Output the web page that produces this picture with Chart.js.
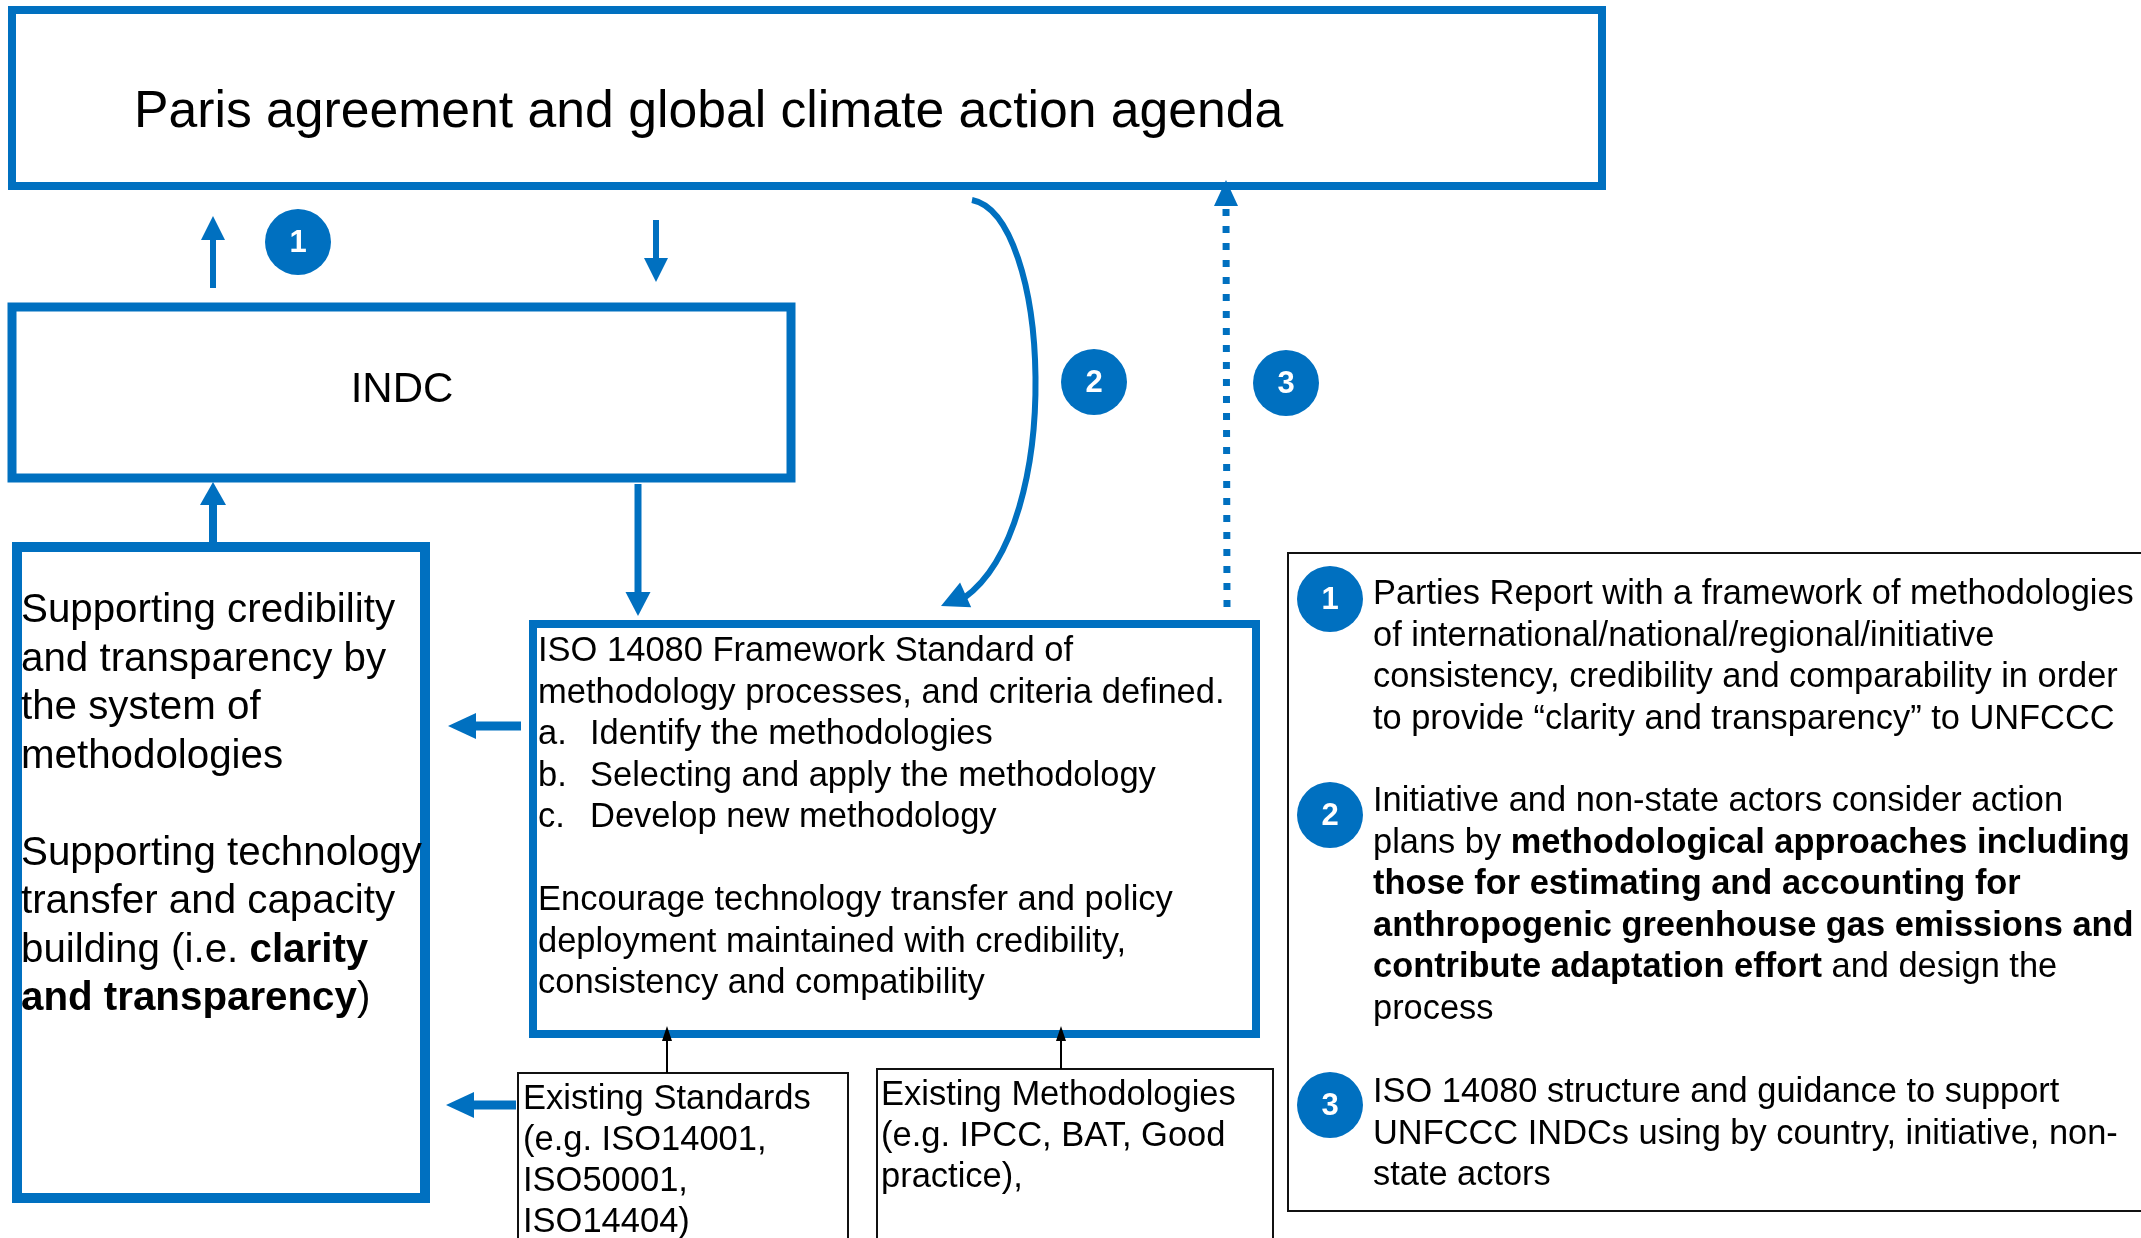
<!DOCTYPE html>
<html>
<head>
<meta charset="utf-8">
<script src="https://cdn.jsdelivr.net/npm/chart.js"></script>
<style>
  html, body { margin: 0; padding: 0; background: #fff; }
  #wrap { width: 2141px; height: 1238px; position: relative; }
</style>
</head>
<body>
<div id="wrap"><canvas id="diagram"></canvas></div>
<script>
// --- Diagram content (texts) ---
const titleText = ['Paris agreement and global climate action agenda'];
const indcText = ['INDC'];
const supportText = [
    'Supporting credibility',
    'and transparency by',
    'the system of',
    'methodologies',
    '',
    'Supporting technology',
    'transfer and capacity',
    'building (i.e. **clarity**',
    '**and transparency**)'
];
const isoText = [
    'ISO 14080 Framework Standard of',
    'methodology processes, and criteria defined.',
    'a.\tIdentify the methodologies',
    'b.\tSelecting and apply the methodology',
    'c.\tDevelop new methodology',
    '',
    'Encourage technology transfer and policy',
    'deployment maintained with credibility,',
    'consistency and compatibility'
];
const standardsText = ['Existing Standards', '(e.g. ISO14001,', 'ISO50001,', 'ISO14404)'];
const methodsText = ['Existing Methodologies', '(e.g. IPCC, BAT, Good', 'practice),'];
const badgeLabels = ['1', '2', '3', '1', '2', '3'];
const noteText = [
    [
        'Parties Report with a framework of methodologies',
        'of international/national/regional/initiative',
        'consistency, credibility and comparability in order',
        'to provide \u201Cclarity and transparency\u201D to UNFCCC'
    ],
    [
        'Initiative and non-state actors consider action',
        'plans by **methodological approaches including**',
        '**those for estimating and accounting for**',
        '**anthropogenic greenhouse gas emissions and**',
        '**contribute adaptation effort** and design the',
        'process'
    ],
    [
        'ISO 14080 structure and guidance to support',
        'UNFCCC INDCs using by country, initiative, non-',
        'state actors'
    ]
];

// --- Layout (in page units, converted through the chart scales) ---
const BLUE = '#0070c0';
const FONT = '"Liberation Sans", Arial, sans-serif';
const badgeSpots = [[298, 242], [1094, 382], [1286, 383], [1330, 599], [1330, 815], [1330, 1105]];

const blueBoxes = [
    { x0: 12, y0: 10, x1: 1602, y1: 186, lw: 8 },   // Paris
    { x0: 12, y0: 307, x1: 791, y1: 478, lw: 9 },   // INDC
    { x0: 17, y0: 547, x1: 425, y1: 1198, lw: 10 }, // supporting
    { x0: 533, y0: 624, x1: 1256, y1: 1034, lw: 8 } // ISO
];
const blackBoxes = [
    { x0: 518, y0: 1073, x1: 848, y1: 1245 },
    { x0: 877, y0: 1069, x1: 1273, y1: 1245 },
    { x0: 1288, y0: 553, x1: 2150, y1: 1211 }
];
// straight arrows: from (x0,y0) to tip (x1,y1)
const arrows = [
    { x0: 213, y0: 288, x1: 213, y1: 216, lw: 6, hl: 24, hw: 24, c: BLUE },
    { x0: 656, y0: 220, x1: 656, y1: 282, lw: 6, hl: 24, hw: 24, c: BLUE },
    { x0: 213, y0: 552, x1: 213, y1: 482, lw: 8, hl: 23, hw: 26, c: BLUE },
    { x0: 638, y0: 484, x1: 638, y1: 616, lw: 7, hl: 24, hw: 25, c: BLUE },
    { x0: 521, y0: 726, x1: 448, y1: 726, lw: 9, hl: 28, hw: 26, c: BLUE },
    { x0: 516, y0: 1105, x1: 446, y1: 1105, lw: 9, hl: 28, hw: 26, c: BLUE },
    { x0: 667, y0: 1073, x1: 667, y1: 1026, lw: 2, hl: 15, hw: 10, c: '#000' },
    { x0: 1061, y0: 1069, x1: 1061, y1: 1026, lw: 2, hl: 15, hw: 10, c: '#000' }
];

const ctxEl = document.getElementById('diagram');

function drawRichLine(ctx, line, x, y, size, indent) {
    let parts = line.split('\t');
    let cx = x;
    parts.forEach((part, pi) => {
        if (pi > 0) cx = x + indent;
        part.split('**').forEach((seg, si) => {
            if (!seg) return;
            ctx.font = (si % 2 ? 'bold ' : '') + size + 'px ' + FONT;
            ctx.fillText(seg, cx, y);
            cx += ctx.measureText(seg).width;
        });
    });
}

function drawHead(ctx, tx, ty, dx, dy, hl, hw) {
    const len = Math.hypot(dx, dy);
    const ux = dx / len, uy = dy / len;
    const bx = tx - ux * hl, by = ty - uy * hl;
    ctx.beginPath();
    ctx.moveTo(tx, ty);
    ctx.lineTo(bx - uy * hw / 2, by + ux * hw / 2);
    ctx.lineTo(bx + uy * hw / 2, by - ux * hw / 2);
    ctx.closePath();
    ctx.fill();
}

const diagramPlugin = {
    id: 'diagramPlugin',
    beforeDatasetsDraw(chart) {
        const { ctx, scales: { x, y } } = chart;
        const px = v => x.getPixelForValue(v);
        const py = v => y.getPixelForValue(v);
        ctx.save();
        ctx.fillStyle = '#fff';
        ctx.fillRect(0, 0, chart.width, chart.height);

        // boxes
        blueBoxes.forEach(b => {
            ctx.strokeStyle = BLUE;
            ctx.lineWidth = b.lw;
            ctx.strokeRect(px(b.x0), py(b.y0), px(b.x1) - px(b.x0), py(b.y1) - py(b.y0));
        });
        blackBoxes.forEach(b => {
            ctx.strokeStyle = '#111';
            ctx.lineWidth = 2;
            ctx.strokeRect(px(b.x0), py(b.y0), px(b.x1) - px(b.x0), py(b.y1) - py(b.y0));
        });

        // straight arrows
        arrows.forEach(a => {
            const dx = px(a.x1) - px(a.x0), dy = py(a.y1) - py(a.y0);
            const len = Math.hypot(dx, dy);
            ctx.strokeStyle = a.c;
            ctx.fillStyle = a.c;
            ctx.lineWidth = a.lw;
            ctx.beginPath();
            ctx.moveTo(px(a.x0), py(a.y0));
            ctx.lineTo(px(a.x1) - dx / len * (a.hl - 2), py(a.y1) - dy / len * (a.hl - 2));
            ctx.stroke();
            drawHead(ctx, px(a.x1), py(a.y1), dx, dy, a.hl, a.hw);
        });

        // curved arrow (2)
        ctx.strokeStyle = BLUE;
        ctx.fillStyle = BLUE;
        ctx.lineWidth = 6;
        ctx.beginPath();
        ctx.moveTo(px(972), py(200));
        ctx.bezierCurveTo(px(1050), py(215), px(1066), py(525), px(964), py(598));
        ctx.stroke();
        drawHead(ctx, px(941), py(606), -1, 0.45, 27, 27);

        // dotted arrow (3)
        ctx.lineWidth = 7;
        ctx.setLineDash([7, 10]);
        ctx.beginPath();
        ctx.moveTo(px(1227), py(607));
        ctx.lineTo(px(1226), py(205));
        ctx.stroke();
        ctx.setLineDash([]);
        drawHead(ctx, px(1226), py(180), 0, -1, 26, 24);

        // texts
        ctx.fillStyle = '#000';
        ctx.textBaseline = 'alphabetic';
        ctx.textAlign = 'left';
        drawRichLine(ctx, titleText[0], px(134), py(127), 51.7, 0);

        ctx.textAlign = 'center';
        ctx.font = '42px ' + FONT;
        ctx.fillText(indcText[0], px(402), py(402));
        ctx.textAlign = 'left';

        supportText.forEach((l, i) => drawRichLine(ctx, l, px(21), py(622 + 48.5 * i), 40.3, 0));
        isoText.forEach((l, i) => drawRichLine(ctx, l, px(538), py(661 + 41.5 * i), 34.5, 52));
        standardsText.forEach((l, i) => drawRichLine(ctx, l, px(523), py(1109 + 41 * i), 34.5, 0));
        methodsText.forEach((l, i) => drawRichLine(ctx, l, px(881), py(1105 + 41 * i), 34.5, 0));

        const noteStarts = [604, 811, 1102];
        noteText.forEach((block, bi) => {
            block.forEach((l, i) => drawRichLine(ctx, l, px(1373), py(noteStarts[bi] + 41.5 * i), 34.4, 0));
        });
        ctx.restore();
    },
    afterDatasetsDraw(chart) {
        const { ctx, scales: { x, y } } = chart;
        ctx.save();
        ctx.fillStyle = '#fff';
        ctx.textAlign = 'center';
        ctx.textBaseline = 'middle';
        ctx.font = 'bold 31px ' + FONT;
        badgeSpots.forEach((p, i) => {
            ctx.fillText(badgeLabels[i], x.getPixelForValue(p[0]), y.getPixelForValue(p[1]) + 1);
        });
        ctx.restore();
    }
};

new Chart(ctxEl, {
    type: 'scatter',
    data: {
        datasets: [{
            label: 'badges',
            data: badgeSpots.map(p => ({ x: p[0], y: p[1] })),
            backgroundColor: BLUE,
            borderWidth: 0,
            pointRadius: 33,
            pointHoverRadius: 33,
            clip: false
        }]
    },
    options: {
        responsive: true,
        maintainAspectRatio: false,
        animation: false,
        events: [],
        layout: { padding: 0, autoPadding: false },
        scales: {
            x: { type: 'linear', min: 0, max: 2141, display: false },
            y: { type: 'linear', min: 0, max: 1238, reverse: true, display: false }
        },
        plugins: {
            legend: { display: false },
            tooltip: { enabled: false }
        }
    },
    plugins: [diagramPlugin]
});
</script>
</body>
</html>
